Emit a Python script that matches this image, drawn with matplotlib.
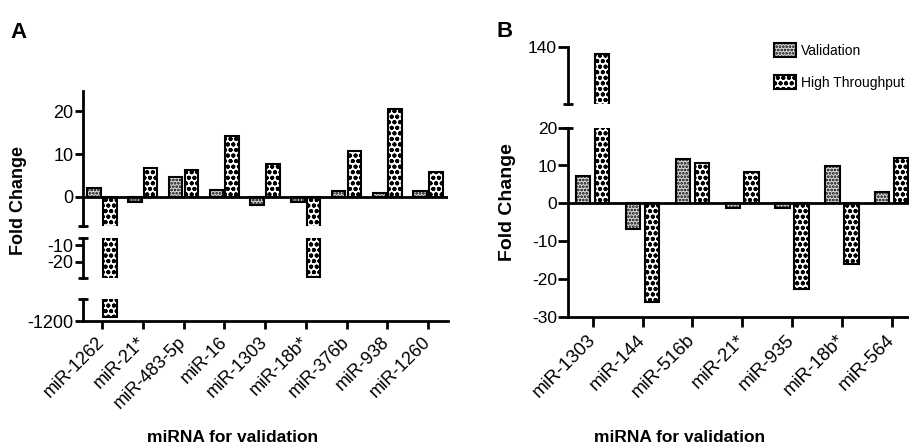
import matplotlib
matplotlib.use("Agg")
import matplotlib.pyplot as plt
import numpy as np

plt.rcParams['font.family'] = ['Liberation Sans', 'DejaVu Sans']
plt.rcParams['hatch.linewidth'] = 1.3

# ---------------- data ----------------
a_labels = ['miR-1262', 'miR-21*', 'miR-483-5p', 'miR-16', 'miR-1303',
            'miR-18b*', 'miR-376b', 'miR-938', 'miR-1260']
a_validation = [2.0, -1.1, 4.7, 1.5, -2.0, -1.3, 1.3, 1.0, 1.3]
a_high_throughput = [-1180, 6.8, 6.2, 14.3, 7.6, -28.7, 10.8, 20.5, 5.8]

b_labels = ['miR-1303', 'miR-144', 'miR-516b', 'miR-21*', 'miR-935',
            'miR-18b*', 'miR-564']
b_validation = [7.2, -6.9, 11.6, -1.2, -1.3, 9.9, 3.1]
b_high_throughput = [138, -26.1, 10.6, 8.3, -22.8, -16.1, 11.9]

series_names = ['Validation', 'High Throughput']

W, H = 909, 444
fig = plt.figure(figsize=(W / 100, H / 100), dpi=100)

LW = 2.0
V_STYLE = dict(facecolor='#d9d9d9', edgecolor='black', hatch='.....', linewidth=1.5)
HT_STYLE = dict(facecolor='white', edgecolor='black', hatch='ooo', linewidth=1.5)


def px_axes(left, top, right, bottom):
    return fig.add_axes([left / W, 1 - bottom / H, (right - left) / W, (bottom - top) / H])


def cap(ax, where):
    x0 = ax.get_xlim()[0]
    y = ax.get_ylim()[0] if where == 'bottom' else ax.get_ylim()[1]
    ax.plot([x0], [y], marker='_', markersize=7, markeredgewidth=LW,
            color='black', clip_on=False, zorder=5)


def draw_segment(ax, x, vals_v, vals_h, width, off, ylim, yticks, xlim,
                 bottom_axis=False, zero=False, labels=None, fs=13, xfs=13,
                 ylen=6, xlen=5.5, xpad=8):
    ax.bar(x - off, vals_v, width, **V_STYLE, zorder=2)
    ax.bar(x + off, vals_h, width, **HT_STYLE, zorder=2)
    ax.set_xlim(*xlim)
    ax.set_ylim(*ylim)
    for s in ['top', 'right']:
        ax.spines[s].set_visible(False)
    ax.spines['left'].set_linewidth(LW)
    ax.set_yticks(yticks)
    ax.set_yticklabels([str(t) for t in yticks])
    ax.tick_params(axis='y', direction='out', length=ylen, width=LW, labelsize=fs, pad=1)
    if zero:
        ax.axhline(0, color='black', linewidth=LW, zorder=3)
    if bottom_axis:
        ax.spines['bottom'].set_linewidth(LW)
        ax.spines['bottom'].set_position(('data', ylim[0]))
        ax.set_xticks(x)
        ax.set_xticklabels(labels, rotation=45, ha='right', va='center',
                           rotation_mode='anchor', fontsize=xfs)
        ax.tick_params(axis='x', direction='out', length=xlen, width=LW, pad=xpad)
    else:
        ax.spines['bottom'].set_visible(False)
        ax.set_xticks([])
    ax.patch.set_alpha(0)


# ---------------- panel A ----------------
xa = np.arange(len(a_labels))
xlim_a = (-0.466, 8.49)
wa, offa = 0.33, 0.193
a_top = px_axes(83, 91, 448, 226)
draw_segment(a_top, xa, a_validation, a_high_throughput, wa, offa,
             (-6.8, 24.7), [0, 10, 20], xlim_a, zero=True)
cap(a_top, 'bottom')
a_mid = px_axes(83, 238, 448, 278)
draw_segment(a_mid, xa, a_validation, a_high_throughput, wa, offa,
             (-29.5, -5.8), [-10, -20], xlim_a)
cap(a_mid, 'bottom'); cap(a_mid, 'top')
a_bot = px_axes(83, 299, 448, 321)
draw_segment(a_bot, xa, a_validation, a_high_throughput, wa, offa,
             (-1200, -1100), [-1200], xlim_a, bottom_axis=True, labels=a_labels)
cap(a_bot, 'top')

# ---------------- panel B ----------------
xb = np.arange(len(b_labels))
xlim_b = (-0.496, 6.5)
wb, offb = 0.29, 0.19
right_b = 568 + (xlim_b[1] - xlim_b[0]) * 49.83
b_top = px_axes(568, 46.7, right_b, 104.3)
draw_segment(b_top, xb, b_validation, b_high_throughput, wb, offb,
             (125, 140), [140], xlim_b, fs=12.5, ylen=7)
cap(b_top, 'bottom')
b_bot = px_axes(568, 127.7, right_b, 316.7)
draw_segment(b_bot, xb, b_validation, b_high_throughput, wb, offb,
             (-30, 20), [-30, -20, -10, 0, 10, 20], xlim_b, bottom_axis=True,
             zero=True, labels=b_labels, fs=12.5, xfs=13.5, ylen=7, xlen=7, xpad=8)
cap(b_bot, 'top')

# legend
handles = [plt.Rectangle((0, 0), 1, 1, **V_STYLE), plt.Rectangle((0, 0), 1, 1, **HT_STYLE)]
fig.legend(handles, series_names, loc='upper left',
           bbox_to_anchor=(774 / W, 1 - 43 / H), bbox_transform=fig.transFigure,
           frameon=False, fontsize=10, handlelength=1.55, handleheight=1.2,
           labelspacing=1.25, handletextpad=0.4, borderaxespad=0, borderpad=0)

# texts
fig.text(10 / W, 1 - 38 / H, 'A', fontsize=16, fontweight='bold', va='baseline')
fig.text(497 / W, 1 - 37 / H, 'B', fontsize=16, fontweight='bold', va='baseline')
fig.text(18.5 / W, 1 - 200 / H, 'Fold Change', rotation=90, fontsize=13,
         fontweight='bold', ha='center', va='center')
fig.text(507.5 / W, 1 - 202 / H, 'Fold Change', rotation=90, fontsize=14,
         fontweight='bold', ha='center', va='center')
fig.text(233 / W, 1 - 437 / H, 'miRNA for validation', fontsize=12.5,
         fontweight='bold', ha='center', va='center')
fig.text(680 / W, 1 - 437 / H, 'miRNA for validation', fontsize=12.5,
         fontweight='bold', ha='center', va='center')

fig.savefig('out.png', dpi=100)
